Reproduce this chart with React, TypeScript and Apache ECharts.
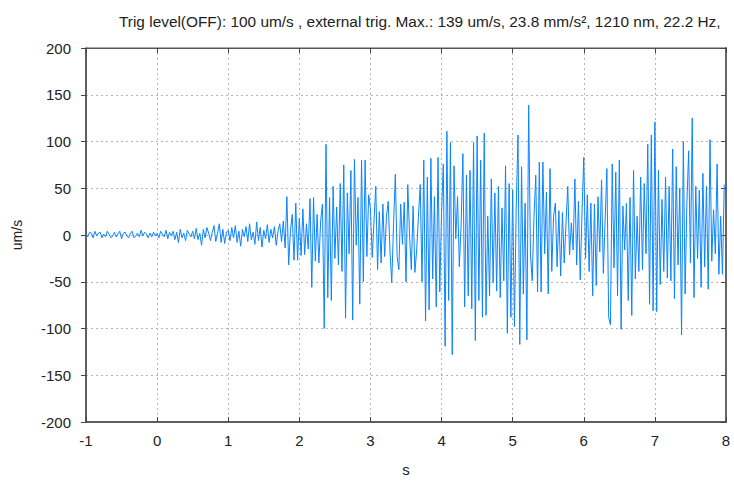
import React, { useEffect, useRef } from "react";
import * as echarts from "echarts";

const TITLE = "Trig level(OFF): 100 um/s , external trig. Max.: 139 um/s, 23.8 mm/s², 1210 nm, 22.2 Hz,";
const SAMPLE_RATE = 40; // samples per second
const T_START = -1;

// velocity samples (um/s), one array per second
const secM1 = [1, -2, 3, 2, -3, 4, -1, 2, 3, -3, 1, -2, 4, 1, -3, -1, 3, -2, 1, 4, -4, 2, 3, -1, -3, 2, 4, -3, -1, 2, -2, 5, -1, 3, 1, -3, 2, -2, 3, -1];
const sec0 = [2, -3, 4, 1, -2, 5, -4, 3, -1, 4, -5, 3, -8, 6, -3, 2, -6, 5, 1, -2, 4, -4, 7, -5, 2, -11, 6, -3, 8, 2, -6, 3, 10, -7, 2, 12, -8, 6, -9, 3];
const sec1 = [5, -6, 8, -3, 10, -8, 4, -12, 6, -2, 9, -7, 12, -5, 3, -10, 14, -6, 8, -13, 5, -4, 11, -8, 6, -3, 9, -11, 4, 12, -7, 15, -14, 41, -32, 5, 22, -27, 34, -27];
const sec2 = [18, -22, 28, -21, 12, -15, 39, -56, 40, -28, 22, -30, 15, 33, -100, 97, -67, 40, -70, 52, -25, 30, -32, 55, -39, 75, -89, 45, -20, 69, -91, 81, -11, 40, -74, 80, -50, 80, -23, 43];
const sec3 = [28, -24, 15, 52, -37, 25, -30, 33, -23, 20, 36, -18, -51, 12, 65, -23, -37, 33, -10, 35, -50, 54, 0, -37, 31, -40, -16, 20, 54, -50, 80, -92, 62, -80, 82, -47, 41, -77, 83, -61];
const sec4 = [24, 76, -119, 111, -70, 99, -128, 74, -4, 41, -34, 10, 87, -77, 64, -65, 69, -79, 99, -113, 106, -70, 80, -88, 109, -86, 20, -65, 60, -51, 45, -60, 52, -67, 29, -49, 74, -105, 55, -88];
const sec5 = [48, -98, 30, 107, -117, 73, -63, 34, -112, 139, -20, -49, 20, 64, -61, 78, -61, 78, -20, 46, -63, 71, -39, 20, 34, -34, 26, -44, 24, -30, 13, 52, -21, 13, -16, 60, -32, 36, -48, 24];
const sec6 = [83, -25, 43, -39, 34, -65, 33, -54, 41, -18, 59, -41, 15, 71, -88, -96, 76, -35, 67, -65, 80, -101, 31, -16, 34, -70, 40, -86, 69, -47, 20, -39, 62, -37, 55, -20, 97, -74, 107, -81];
const sec7 = [121, -82, 69, -53, 38, -39, 62, -46, 52, -49, 92, -68, 73, -32, 50, -107, 100, -63, 34, 90, -30, 125, -67, 52, -25, 48, -56, 66, -34, 52, -58, 102, -28, 27, -20, 76, -42, 20, -42, 53, 55];

const X_TICKS_MIN = -1;
const X_TICKS_MAX = 8;
const Y_MIN = -200;
const Y_MAX = 200;

const velocity = [...secM1, ...sec0, ...sec1, ...sec2, ...sec3, ...sec4, ...sec5, ...sec6, ...sec7];

export default function App() {
  const ref = useRef<HTMLDivElement>(null);
  useEffect(() => {
    if (!ref.current) return;
    const chart = echarts.init(ref.current, undefined, { renderer: "svg" });
    const font = "Liberation Sans, Arial, sans-serif";
    const data = velocity.map((v, i) => [T_START + i / SAMPLE_RATE, v]);
    const gridLine = { show: true, lineStyle: { color: "#b4b4b4", type: [2, 3] as any, width: 1 } };
    chart.setOption({
      animation: false,
      backgroundColor: "#ffffff",
      title: {
        text: TITLE,
        left: 114,
        top: 9,
        textStyle: { fontSize: 15.4, fontWeight: "normal", color: "#222", fontFamily: font },
      },
      grid: { left: 86, top: 48, width: 640, height: 383, show: true, borderColor: "#555", borderWidth: 1 },
      xAxis: [
        {
          type: "value",
          min: X_TICKS_MIN,
          max: X_TICKS_MAX,
          interval: 1,
          name: "s",
          nameLocation: "middle",
          nameGap: 40,
          nameTextStyle: { fontSize: 15, color: "#222", fontFamily: font },
          axisLine: { show: true, onZero: false, lineStyle: { color: "#444", width: 1.5 } },
          axisTick: { show: true, inside: true, length: 5, lineStyle: { color: "#444" } },
          axisLabel: { fontSize: 15, color: "#222", margin: 11, fontFamily: font },
          splitLine: gridLine,
        },
        {
          type: "value",
          position: "top",
          min: X_TICKS_MIN,
          max: X_TICKS_MAX,
          interval: 1,
          axisLine: { show: true, onZero: false, lineStyle: { color: "#555", width: 1 } },
          axisTick: { show: true, inside: true, length: 5, lineStyle: { color: "#444" } },
          axisLabel: { show: false },
          splitLine: { show: false },
        },
      ],
      yAxis: [
        {
          type: "value",
          min: Y_MIN,
          max: Y_MAX,
          interval: 50,
          name: "um/s",
          nameLocation: "middle",
          nameGap: 62,
          nameRotate: 90,
          nameTextStyle: { fontSize: 14, color: "#222", fontFamily: font },
          axisLine: { show: true, onZero: false, lineStyle: { color: "#444", width: 1.5 } },
          axisTick: { show: true, inside: false, length: 5, lineStyle: { color: "#444" } },
          axisLabel: { fontSize: 15, color: "#222", margin: 15, fontFamily: font },
          splitLine: gridLine,
        },
        {
          type: "value",
          position: "right",
          min: Y_MIN,
          max: Y_MAX,
          interval: 50,
          axisLine: { show: true, onZero: false, lineStyle: { color: "#666", width: 2 } },
          axisTick: { show: true, inside: true, length: 5, lineStyle: { color: "#444" } },
          axisLabel: { show: false },
          splitLine: { show: false },
        },
      ],
      series: [
        {
          type: "line",
          data,
          showSymbol: false,
          symbol: "none",
          lineStyle: { color: "#0a84ff", width: 1 },
          itemStyle: { color: "#0a84ff" },
          z: 3,
        },
      ],
    });
    return () => chart.dispose();
  }, []);
  return <div ref={ref} style={{ position: "absolute", left: 0, top: 0, width: 734, height: 482 }} />;
}
